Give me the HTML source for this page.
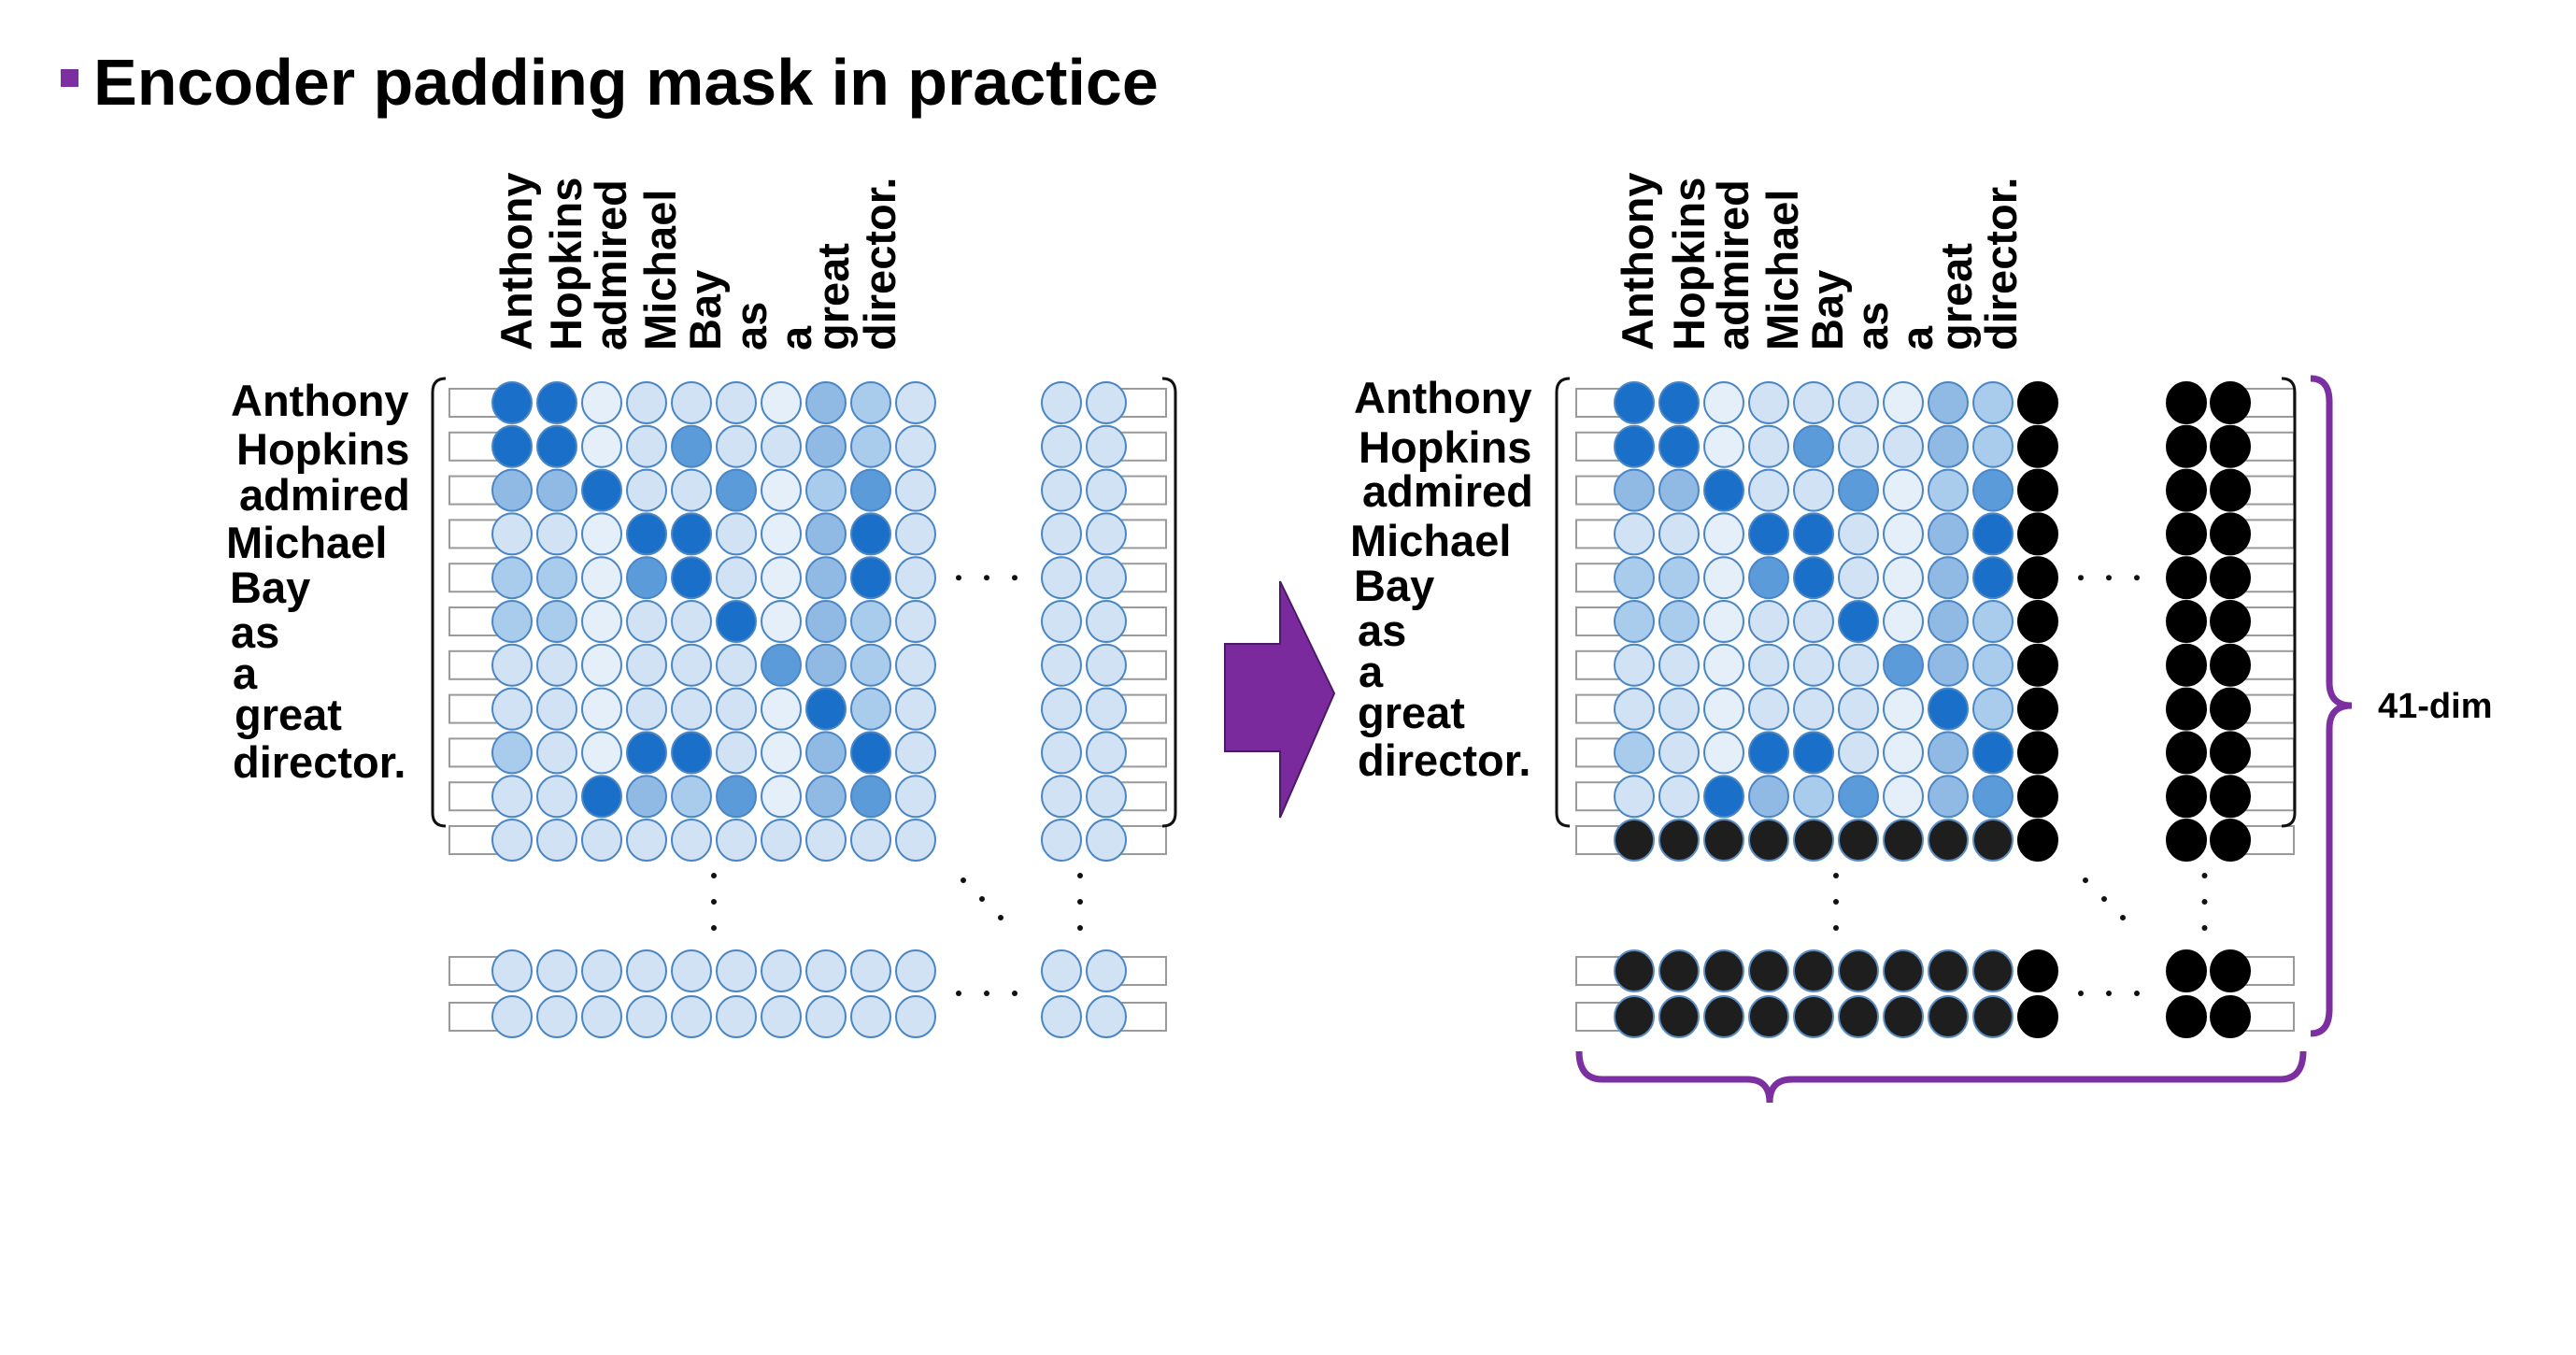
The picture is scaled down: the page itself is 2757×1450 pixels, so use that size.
<!DOCTYPE html>
<html><head><meta charset="utf-8"><style>
html,body{margin:0;padding:0;background:#fff;width:2757px;height:1450px;overflow:hidden}
svg{display:block}
text{font-family:"Liberation Sans",sans-serif;font-weight:bold;fill:#000}
</style></head><body>
<svg id="fig" width="2757" height="1450" viewBox="0 0 2757 1450" xmlns="http://www.w3.org/2000/svg">
<rect x="65" y="74" width="19" height="19" fill="#7b2fa0"/>
<text x="100" y="112" font-size="70">Encoder padding mask in practice</text>
<g id="L"></g><g id="R"></g>
<polygon points="1311,689 1370,689 1370,622 1428,742 1370,875 1370,804 1311,804" fill="#7b2a9e" stroke="#4b1a66" stroke-width="2"/>
<path d="M2473,405 Q2493,405 2493,430 L2493,730 Q2493,755 2517,755 Q2493,755 2493,780 L2493,1080 Q2493,1106 2473,1106" fill="none" stroke="#7b2fa0" stroke-width="7"/>
<text x="2545" y="768" font-size="38">41-dim</text>
<path d="M1690,1125 Q1690,1155 1715,1155 L1870,1155 Q1894,1155 1894,1180 Q1894,1155 1918,1155 L2440,1155 Q2465,1155 2465,1125" fill="none" stroke="#7b2fa0" stroke-width="7"/>
</svg>
<script>
const words = ["Anthony","Hopkins","admired","Michael","Bay","as","a","great","director."];
// attention intensity levels (0 lightest .. 5 darkest), 10 rows x 10 cols
const weights = [
 [5,5,0,1,1,1,0,3,2,1],
 [5,5,0,1,4,1,1,3,2,1],
 [3,3,5,1,1,4,0,2,4,1],
 [1,1,0,5,5,1,0,3,5,1],
 [2,2,0,4,5,1,0,3,5,1],
 [2,2,0,1,1,5,0,3,2,1],
 [1,1,0,1,1,1,4,3,2,1],
 [1,1,0,1,1,1,0,5,2,1],
 [2,1,0,5,5,1,0,3,5,1],
 [1,1,5,3,2,4,0,3,4,1]
];
const palette = ["#e4eff9","#d0e2f4","#aaccec","#90bae4","#5c9bda","#1a6fc9"];
const leftRowLabelX = [247,253,256,242,246,247,249,251,249];
const leftRowLabelY = [445,497,546,597,645,693,737,781,832];
const rightRowLabelX = [1449,1454,1458,1445,1449,1453,1454,1453,1453];
const rightRowLabelY = [442,495,542,595,643,691,735,779,830];
const leftColLabelX = [553,606,654,707,755,804,852,892,942];
const rightColLabelX = [1753,1808,1855,1908,1956,2004,2052,2094,2142];

const NS="http://www.w3.org/2000/svg";
function mk(parent,tag,attrs){const e=document.createElementNS(NS,tag);for(const k in attrs)e.setAttribute(k,attrs[k]);parent.appendChild(e);return e;}
const rowY = r => 431 + r*46.8;
const bottomY = [1039,1088];
const RX=21, RY=22;

function panel(g, x0, extraX, tabL, tabR, masked, rowLX, rowLY, colLX, brL, brR){
  const rows = weights.map((r,i)=>rowY(i)).concat([rowY(10)]).concat(bottomY);
  rows.forEach((y,i)=>{
    const t1=mk(g,'rect',{x:tabL,y:y-15,width:70,height:30,fill:'#fff',stroke:'#9a9a9a','stroke-width':2});
    
    
    const t2=mk(g,'rect',{x:extraX[1],y:y-15,width:tabR-extraX[1],height:30,fill:'#fff',stroke:'#9a9a9a','stroke-width':2});
    
    
  });
  const ncols = 10;
  rows.forEach((y,ri)=>{
    for(let c=0;c<ncols;c++){
      let fill, stroke='#4a86c5';
      if(ri<10){
        if(masked && c===9){fill='#000';stroke='#000';}
        else fill=palette[weights[ri][c]];
      } else {
        if(masked){fill=c===9?'#000':'#1e1e1e';stroke=c===9?'#000':'#5a8cc0';}
        else fill=palette[1];
      }
      const e=mk(g,'ellipse',{cx:x0+c*48,cy:y,rx:RX,ry:RY,fill:fill,stroke:stroke,'stroke-width':2});
      
      
    }
    extraX.forEach(x=>{
      const e=mk(g,'ellipse',{cx:x,cy:y,rx:RX,ry:RY,fill:masked?'#000':palette[1],stroke:masked?'#000':'#4a86c5','stroke-width':2});
      
      
    });
  });
  words.forEach((w,i)=>{
    const t=mk(g,'text',{x:rowLX[i],y:rowLY[i],'font-size':47});t.textContent=w;
    
    
    const cx=colLX[i]+16;
    const ct=mk(g,'text',{x:cx,y:375,'font-size':47,transform:`rotate(-90 ${cx} 375)`});ct.textContent=w;
    
    
  });
  const b1=mk(g,'path',{d:`M${brL+14},405 Q${brL},405 ${brL},420 L${brL},870 Q${brL},884 ${brL+14},884`,fill:'none',stroke:'#111','stroke-width':3});
  
  
  const b2=mk(g,'path',{d:`M${brR-14},405 Q${brR},405 ${brR},420 L${brR},870 Q${brR},884 ${brR-14},884`,fill:'none',stroke:'#111','stroke-width':3});
  
  
  const hx = x0+9*48+46, dots=[];
  [0,1,2].forEach(k=>{dots.push([hx+k*30,rowY(4)]);dots.push([hx+k*30,1063]);});
  const vx = x0+4.5*48, ex=extraX[0]+(extraX[1]-extraX[0])/2-10;
  [0,1,2].forEach(k=>{dots.push([vx,937+k*28]);dots.push([ex+6,937+k*28]);dots.push([hx+5+k*20,942+k*20]);});
  dots.forEach(d=>{const e=mk(g,'circle',{cx:d[0],cy:d[1],r:3,fill:'#111'});
    
    });
}
panel(document.getElementById('L'),548,[1136,1184],481,1248,false,leftRowLabelX,leftRowLabelY,leftColLabelX,463,1258);
panel(document.getElementById('R'),1749,[2340,2387],1687,2455,true,rightRowLabelX,rightRowLabelY,rightColLabelX,1666,2456);
</script>
</body></html>
